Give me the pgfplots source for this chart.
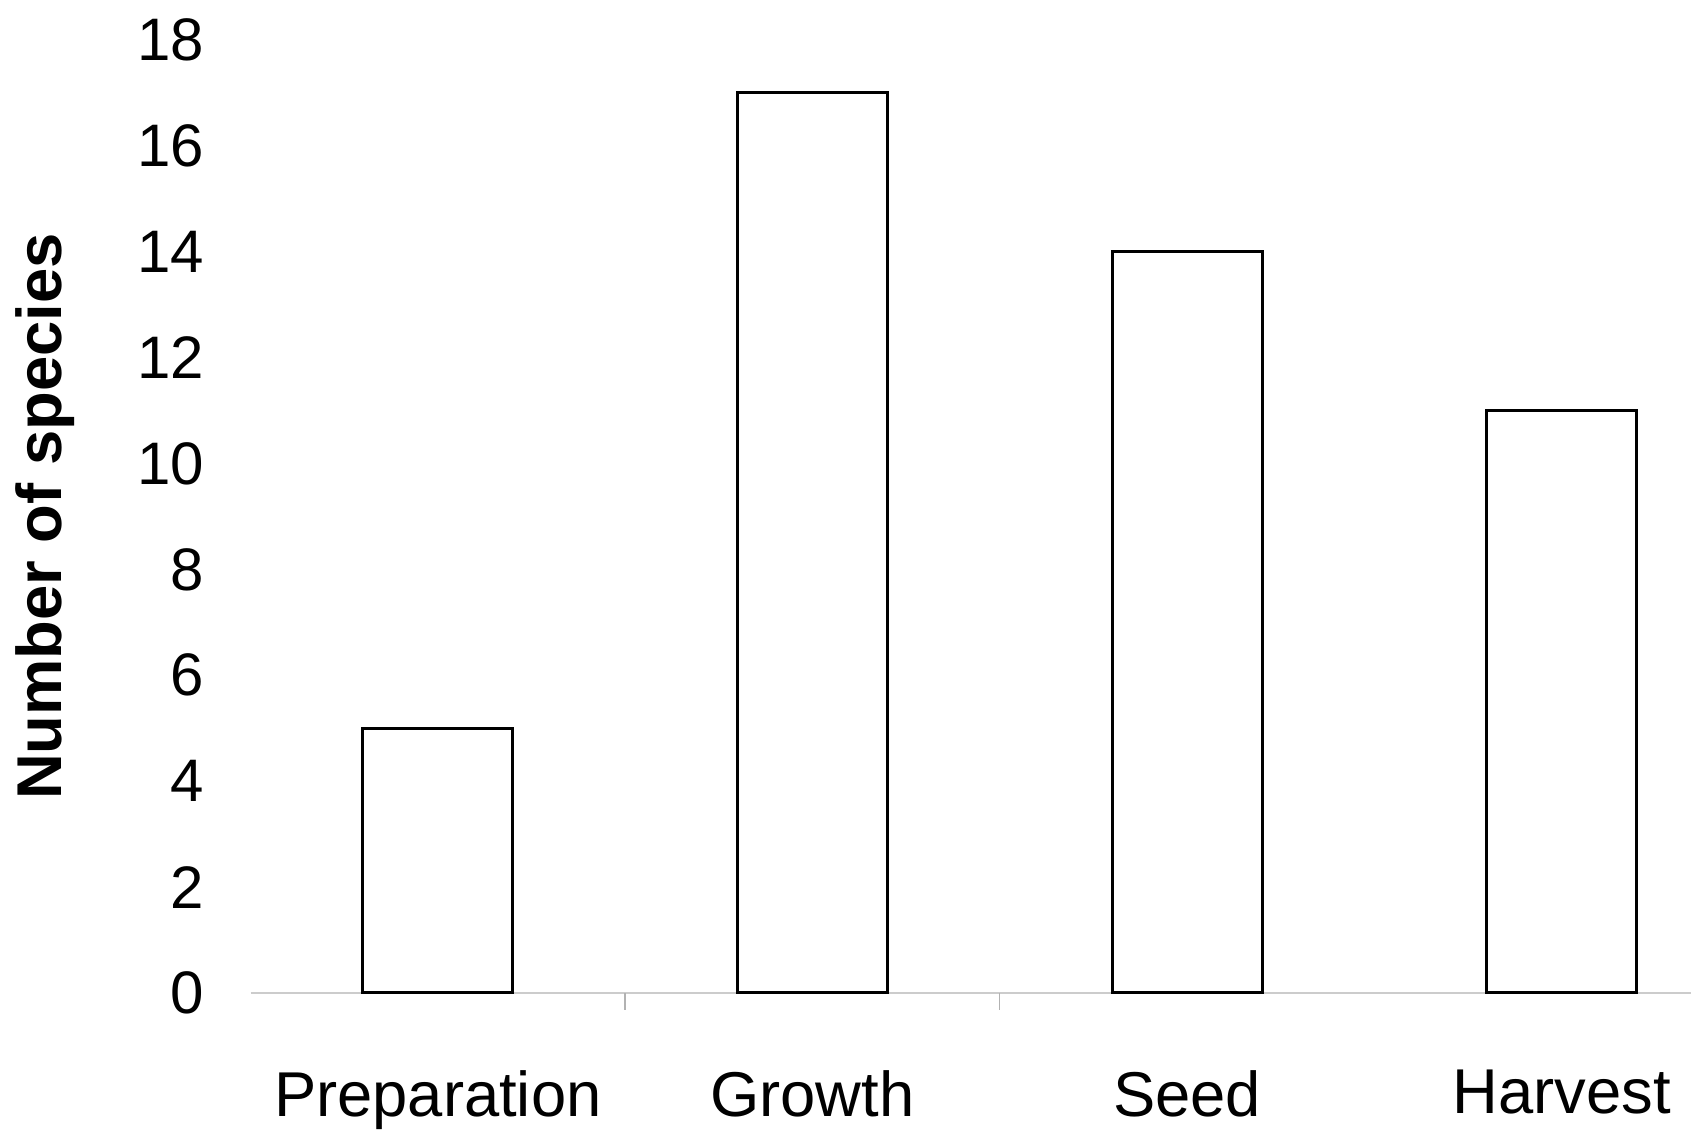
\documentclass[border=0pt]{standalone}
\usepackage{fontspec}
\setmainfont{Liberation Sans}
\usepackage{pgfplots}
\pgfplotsset{compat=1.18}
\begin{document}
\begin{tikzpicture}
\path[use as bounding box] (0,0) rectangle (507.3pt,339pt);
\begin{axis}[
  at={(75.15pt,41.1pt)}, anchor=south west,
  scale only axis, width=432.15pt, height=285.9pt,
  xmin=-0.5, xmax=3.345, ymin=0, ymax=18,
  axis lines*=left,
  x axis line style={draw=gray!40, line width=0.4pt},
  y axis line style={draw=none},
  ytick={0,2,...,18},
  xtick={0,1,2,3},
  xticklabels={Preparation, Growth, Seed, Harvest},
  major tick length=0pt,
  extra x ticks={0.5,1.5},
  extra x tick labels={},
  extra x tick style={major tick length=5pt, tick align=outside, tick style={draw=gray!60, line width=0.4pt}},
  /pgf/number format/assume math mode=true,
  yticklabel style={font=\fontsize{18}{21}\selectfont, anchor=east, inner sep=0pt, xshift=-13.65pt},
  xticklabel style={font=\fontsize{19}{22}\selectfont, anchor=north, inner sep=0pt, yshift=-23pt},
  ylabel={Number of species},
  every axis y label/.style={at={(rel axis cs:0,0.5)}, xshift=-61.5pt, rotate=90, anchor=center, font=\fontsize{19}{22}\selectfont\bfseries},
  clip=false,
]
\addplot[ybar, bar width=0.4, draw=black, fill=white, line width=0.9pt] coordinates {(0,5) (1,17) (2,14) (3,11)};
\end{axis}
\end{tikzpicture}
\end{document}
